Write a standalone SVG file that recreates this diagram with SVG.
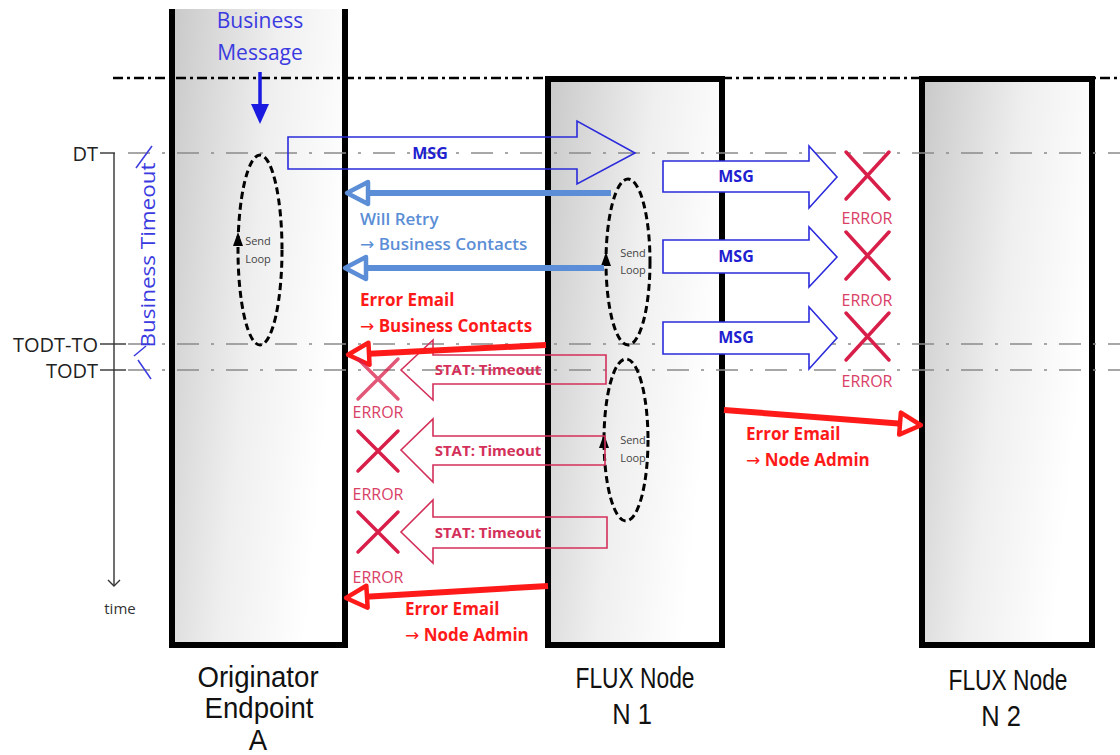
<svg xmlns="http://www.w3.org/2000/svg" width="1120" height="755" viewBox="0 0 1120 755">
<defs>
<linearGradient id="gBox" x1="0" y1="0" x2="1" y2="0.35">
<stop offset="0" stop-color="#c9c9c9"/><stop offset="0.55" stop-color="#efefef"/><stop offset="1" stop-color="#ffffff"/>
</linearGradient>
<marker id="hRed" markerUnits="userSpaceOnUse" markerWidth="34" markerHeight="34" refX="10" refY="15" orient="auto">
<path d="M26,15 L5,4 L5,26 Z" fill="#fff" stroke="#ff1a1a" stroke-width="4.5" stroke-linejoin="round"/>
</marker>
<marker id="hBlue" markerUnits="userSpaceOnUse" markerWidth="34" markerHeight="34" refX="10" refY="15" orient="auto">
<path d="M26,15 L5,4 L5,26 Z" fill="#fff" stroke="#5b8ed6" stroke-width="4.5" stroke-linejoin="round"/>
</marker>
<marker id="hTime" markerUnits="userSpaceOnUse" markerWidth="14" markerHeight="14" refX="7" refY="11" orient="0">
<path d="M1,5 L7,11 L13,5" fill="none" stroke="#333" stroke-width="1.4"/>
</marker>
<marker id="hLoop" markerUnits="userSpaceOnUse" markerWidth="14" markerHeight="16" refX="6" refY="8" orient="0">
<path d="M6,0 L11,14 L1,14 Z" fill="#000"/>
</marker>
</defs>
<style>
.box{stroke:#000;stroke-width:6;fill:url(#gBox)}
.grid{stroke:#8a8a8a;stroke-width:1.6;stroke-dasharray:22 12 3 12;fill:none}
.loop{fill:none;stroke:#000;stroke-width:3;stroke-dasharray:7 4}
.msg{fill:none;stroke:#2b2bdc;stroke-width:1.6}
.msgw{fill:#fff;stroke:#2b2bdc;stroke-width:1.6}
.stat{fill:none;stroke:#d3305a;stroke-width:1.6}
.x{stroke:#d81f4a;stroke-width:3.5;stroke-linecap:round;fill:none}
.t{font-family:"Open Sans","Liberation Sans",sans-serif}
.ar{font-family:"DejaVu Sans",sans-serif;font-weight:normal}
.lbl{font-family:"Open Sans","Liberation Sans",sans-serif;font-size:20px;fill:#222}
.err{font-family:"Open Sans","Liberation Sans",sans-serif;font-size:16px;fill:#d94166;text-anchor:middle}
.msgt{font-family:"Open Sans","Liberation Sans",sans-serif;font-size:16px;font-weight:bold;fill:#2020d0}
.statt{font-family:"Open Sans","Liberation Sans",sans-serif;font-size:15px;font-weight:bold;fill:#d3305a}
.red{font-family:"Open Sans","Liberation Sans",sans-serif;font-size:17px;font-weight:bold;fill:#ff1a1a}
.bl{font-family:"Open Sans","Liberation Sans",sans-serif;font-size:17px;font-weight:600;fill:#5b8ed6}
.small{font-family:"Open Sans","Liberation Sans",sans-serif;font-size:11px;fill:#444;text-anchor:middle}
.node{font-family:"Liberation Sans",Arial,sans-serif;font-size:30px;fill:#111;text-anchor:middle}
</style>

<g id="boxA">
<path d="M172,9 V645 H345 V9" class="box"/>
</g>
<g id="boxN1">
<rect x="548" y="79" width="174" height="566" class="box"/>
</g>
<g id="boxN2">
<rect x="922" y="79" width="170" height="566" class="box"/>
</g>

<g id="gridlines">
<line x1="113" y1="78" x2="1120" y2="78" stroke="#000" stroke-width="2.5" stroke-dasharray="10 4 3 4"/>
<line x1="128" y1="153" x2="1120" y2="153" class="grid"/>
<line x1="128" y1="344" x2="1120" y2="344" class="grid"/>
<line x1="128" y1="370" x2="1120" y2="370" class="grid"/>
</g>

<g id="timeaxis">
<line x1="100" y1="153" x2="115" y2="153" stroke="#333" stroke-width="1.4"/>
<line x1="100" y1="344" x2="126" y2="344" stroke="#333" stroke-width="1.4"/>
<line x1="100" y1="370" x2="126" y2="370" stroke="#333" stroke-width="1.4"/>
<line x1="114" y1="153" x2="114" y2="586" stroke="#333" stroke-width="1.4" marker-end="url(#hTime)"/>
<text x="98" y="161" class="lbl" text-anchor="end">DT</text>
<text x="98" y="352" class="lbl" text-anchor="end">TODT-TO</text>
<text x="98" y="378" class="lbl" text-anchor="end">TODT</text>
<text x="120" y="614" class="t" font-size="15" fill="#333" text-anchor="middle">time</text>
</g>

<g id="businessTimeout">
<line x1="136" y1="168" x2="152" y2="146" stroke="#3a3ae0" stroke-width="1.5"/>
<line x1="134" y1="356" x2="146" y2="346" stroke="#3a3ae0" stroke-width="1.5"/>
<line x1="138" y1="360" x2="151" y2="379" stroke="#3a3ae0" stroke-width="1.5"/>
<text transform="translate(155,255) rotate(-90)" class="t" font-size="20" fill="#3a3ae0" text-anchor="middle" textLength="185" lengthAdjust="spacingAndGlyphs">Business Timeout</text>
</g>

<g id="businessMessage">
<text x="260" y="28" class="t" font-size="21" fill="#3a3ae0" text-anchor="middle">Business</text>
<text x="260" y="60" class="t" font-size="21" fill="#3a3ae0" text-anchor="middle">Message</text>
<line x1="260" y1="72" x2="260" y2="106" stroke="#1a1ae0" stroke-width="3.5"/>
<path d="M251,104 L269,104 L260,124 Z" fill="#1a1ae0"/>
</g>

<g id="loops">
<ellipse cx="260" cy="250" rx="22" ry="95" class="loop"/>
<line x1="238" y1="250" x2="238" y2="240" stroke="none" marker-end="url(#hLoop)"/>
<text x="258" y="245" class="small">Send</text>
<text x="258" y="263" class="small">Loop</text>
<ellipse cx="628" cy="262" rx="22" ry="83" class="loop"/>
<line x1="606" y1="265" x2="606" y2="260" stroke="none" marker-end="url(#hLoop)"/>
<text x="633" y="257" class="small">Send</text>
<text x="633" y="274" class="small">Loop</text>
<ellipse cx="626" cy="440" rx="22" ry="81" class="loop"/>
<line x1="604" y1="447" x2="604" y2="442" stroke="none" marker-end="url(#hLoop)"/>
<text x="633" y="444" class="small">Send</text>
<text x="633" y="462" class="small">Loop</text>
</g>

<g id="connectors">
<polygon points="288,137 577,137 577,121 635,153 577,184 577,169 288,169" class="msg"/>
<text x="430" y="159" class="msgt" text-anchor="middle">MSG</text>

<polygon points="663,161 809,161 809,146 837,177 809,208 809,192 663,192" class="msgw"/>
<text x="736" y="182" class="msgt" text-anchor="middle">MSG</text>
<polygon points="663,240 809,240 809,227 837,257 809,287 809,273 663,273" class="msgw"/>
<text x="736" y="262" class="msgt" text-anchor="middle">MSG</text>
<polygon points="663,322 809,322 809,307 837,338 809,369 809,354 663,354" class="msgw"/>
<text x="736" y="343" class="msgt" text-anchor="middle">MSG</text>

<line x1="611" y1="193" x2="363" y2="193" stroke="#5b8ed6" stroke-width="6" marker-end="url(#hBlue)"/>
<line x1="604" y1="268" x2="361" y2="268" stroke="#5b8ed6" stroke-width="6" marker-end="url(#hBlue)"/>
<text x="360" y="225" class="bl">Will Retry</text>
<text x="360" y="250" class="bl"><tspan class="ar">→</tspan> Business Contacts</text>

<text x="360" y="306" class="red">Error Email</text>
<text x="360" y="332" class="red"><tspan class="ar">→</tspan> Business Contacts</text>

<polygon points="606,355 433,355 433,340 401,370 433,400 433,384 606,384" class="stat"/>
<text x="488" y="375" class="statt" text-anchor="middle">STAT: Timeout</text>
<polygon points="605,436 433,436 433,419 401,450 433,482 433,465 605,465" class="stat"/>
<text x="488" y="456" class="statt" text-anchor="middle">STAT: Timeout</text>
<polygon points="607,517 433,517 433,500 401,532 433,563 433,548 607,548" class="stat"/>
<text x="488" y="538" class="statt" text-anchor="middle">STAT: Timeout</text>

<line x1="546" y1="345" x2="364" y2="354" stroke="#ff1a1a" stroke-width="6" marker-end="url(#hRed)"/>
<line x1="548" y1="586" x2="362" y2="597" stroke="#ff1a1a" stroke-width="6" marker-end="url(#hRed)"/>
<text x="405" y="615" class="red">Error Email</text>
<text x="405" y="641" class="red"><tspan class="ar">→</tspan> Node Admin</text>

<line x1="724" y1="410" x2="905" y2="424" stroke="#ff1a1a" stroke-width="6" marker-end="url(#hRed)"/>
<text x="746" y="440" class="red">Error Email</text>
<text x="746" y="466" class="red"><tspan class="ar">→</tspan> Node Admin</text>
</g>

<g id="errors">
<path d="M358,359 L398,399 M398,359 L358,399" class="x" opacity="0.75"/>
<text x="378" y="418" class="err">ERROR</text>
<path d="M358,431 L398,471 M398,431 L358,471" class="x"/>
<text x="378" y="500" class="err">ERROR</text>
<path d="M358,512 L398,552 M398,512 L358,552" class="x"/>
<text x="378" y="583" class="err">ERROR</text>

<path d="M846,152 L889,199 M889,152 L846,199" class="x"/>
<text x="867" y="224" class="err">ERROR</text>
<path d="M846,232 L889,279 M889,232 L846,279" class="x"/>
<text x="867" y="306" class="err">ERROR</text>
<path d="M846,313 L889,360 M889,313 L846,360" class="x"/>
<text x="867" y="387" class="err">ERROR</text>
</g>

<g id="nodeLabels">
<text transform="translate(258,687) scale(0.92,1)" class="node">Originator</text>
<text transform="translate(259,718) scale(0.92,1)" class="node">Endpoint</text>
<text transform="translate(258,750) scale(0.92,1)" class="node">A</text>
<text transform="translate(635,688) scale(0.76,1)" class="node">FLUX Node</text>
<text transform="translate(632,724) scale(0.85,1)" class="node" font-size="33">N 1</text>
<text transform="translate(1008,690) scale(0.76,1)" class="node">FLUX Node</text>
<text transform="translate(1001,726) scale(0.85,1)" class="node" font-size="33">N 2</text>
</g>
</svg>
